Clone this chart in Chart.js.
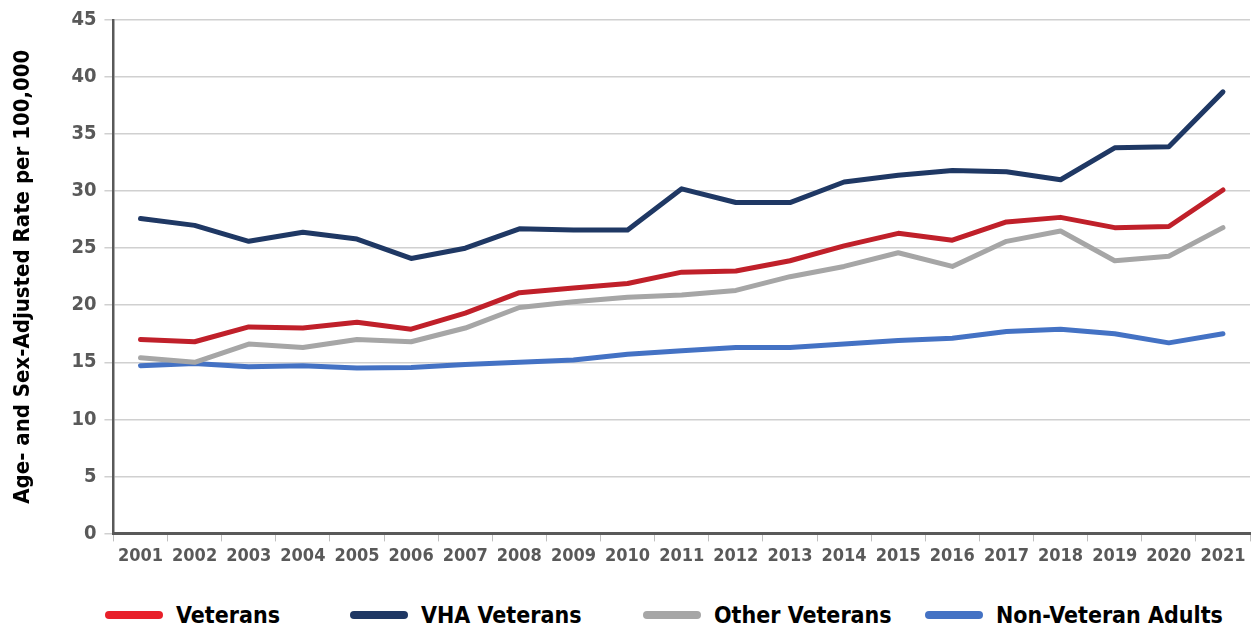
<!DOCTYPE html>
<html>
<head>
<meta charset="utf-8">
<script src="https://cdn.jsdelivr.net/npm/chart.js@4"></script>
<style>
  body { margin: 0; background: #fff; }
  #wrap { position: relative; width: 1252px; height: 630px; }
  #chartBox { position: absolute; left: 0; top: 0; width: 1252px; height: 572px; }
  .leg { position: absolute; top: 602px; display: flex; align-items: center;
         font-family: 'Liberation Sans Narrow', 'DejaVu Sans Condensed', sans-serif;
         font-weight: bold; font-size: 23px; color: #000; white-space: nowrap; }
  .leg span.sw { display: inline-block; width: 58px; height: 8px; border-radius: 4px; margin-right: 13px; }
</style>
</head>
<body>
<div id="wrap">
  <div id="chartBox"><canvas id="rates"></canvas></div>
  <div id="legend"></div>
</div>
<script>
const years = ['2001','2002','2003','2004','2005','2006','2007','2008','2009','2010','2011',
               '2012','2013','2014','2015','2016','2017','2018','2019','2020','2021'];
const veterans    = [17.0, 16.8, 18.1, 18.0, 18.5, 17.9, 19.3, 21.1, 21.5, 21.9, 22.9,
                     23.0, 23.9, 25.2, 26.3, 25.7, 27.3, 27.7, 26.8, 26.9, 30.1];
const vhaVeterans = [27.6, 27.0, 25.6, 26.4, 25.8, 24.1, 25.0, 26.7, 26.6, 26.6, 30.2,
                     29.0, 29.0, 30.8, 31.4, 31.8, 31.7, 31.0, 33.8, 33.9, 38.7];
const otherVeterans = [15.4, 15.0, 16.6, 16.3, 17.0, 16.8, 18.0, 19.8, 20.3, 20.7, 20.9,
                       21.3, 22.5, 23.4, 24.6, 23.4, 25.6, 26.5, 23.9, 24.3, 26.8];
const nonVeterans = [14.7, 14.9, 14.6, 14.7, 14.5, 14.55, 14.8, 15.0, 15.2, 15.7, 16.0,
                     16.3, 16.3, 16.6, 16.9, 17.1, 17.7, 17.9, 17.5, 16.7, 17.5];
const yTicks = [0, 5, 10, 15, 20, 25, 30, 35, 40, 45];

const seriesNames = ['Veterans', 'VHA Veterans', 'Other Veterans', 'Non-Veteran Adults'];
const seriesColors = ['#c0202a', '#1f3864', '#a6a6a6', '#4472c4'];
const legendColors = ['#e8202a', '#1f3864', '#a6a6a6', '#4472c4'];
const legendLeft = [105, 350, 643, 925];

const fontFam = "'Liberation Sans Narrow', 'DejaVu Sans Condensed', sans-serif";

function makeSet(label, data, color) {
    return {
        label: label,
        data: data,
        borderColor: color,
        backgroundColor: color,
        borderWidth: 5,
        borderCapStyle: 'round',
        borderJoinStyle: 'round',
        pointRadius: 0,
        tension: 0,
        fill: false
    };
}

const allData = [veterans, vhaVeterans, otherVeterans, nonVeterans];
const datasets = [];
// draw order: gray/blue under red/navy
[3, 2, 0, 1].forEach(function(i) {
    const ds = makeSet(seriesNames[i], allData[i], seriesColors[i]);
    ds.order = i;
    datasets.push(ds);
});

new Chart(document.getElementById('rates'), {
    type: 'line',
    data: { labels: years, datasets: datasets },
    options: {
        responsive: true,
        maintainAspectRatio: false,
        animation: false,
        layout: { padding: { top: 5, right: 2, left: 10, bottom: 1 } },
        plugins: {
            legend: { display: false },
            tooltip: { enabled: false }
        },
        scales: {
            x: {
                offset: true,
                grid: {
                    offset: true,
                    drawOnChartArea: false,
                    drawTicks: true,
                    tickLength: 8,
                    color: '#bfbfbf',
                    lineWidth: 1
                },
                border: { display: true, color: '#595959', width: 3 },
                ticks: {
                    color: '#595959',
                    padding: 4,
                    maxRotation: 0,
                    autoSkip: false,
                    font: { family: fontFam, size: 18, weight: 'bold' }
                }
            },
            y: {
                min: 0,
                max: 45,
                afterBuildTicks: function(axis) {
                    axis.ticks = yTicks.map(function(v) { return { value: v }; });
                },
                grid: {
                    color: '#d0d0d0',
                    lineWidth: 1.5,
                    tickLength: 9,
                    drawTicks: true
                },
                border: { display: true, color: '#595959', width: 2.5 },
                ticks: {
                    color: '#595959',
                    padding: 8,
                    font: { family: fontFam, size: 20, weight: 'bold' }
                },
                title: {
                    display: true,
                    text: 'Age- and Sex-Adjusted Rate per 100,000',
                    color: '#000',
                    padding: { top: 0, bottom: 27 },
                    font: { family: fontFam, size: 22, weight: 'bold' }
                }
            }
        }
    }
});

// legend row under the chart
const legendBox = document.getElementById('legend');
seriesNames.forEach(function(name, i) {
    const item = document.createElement('div');
    item.className = 'leg';
    item.style.left = legendLeft[i] + 'px';
    const sw = document.createElement('span');
    sw.className = 'sw';
    sw.style.background = legendColors[i];
    item.appendChild(sw);
    item.appendChild(document.createTextNode(name));
    legendBox.appendChild(item);
});
</script>
</body>
</html>
